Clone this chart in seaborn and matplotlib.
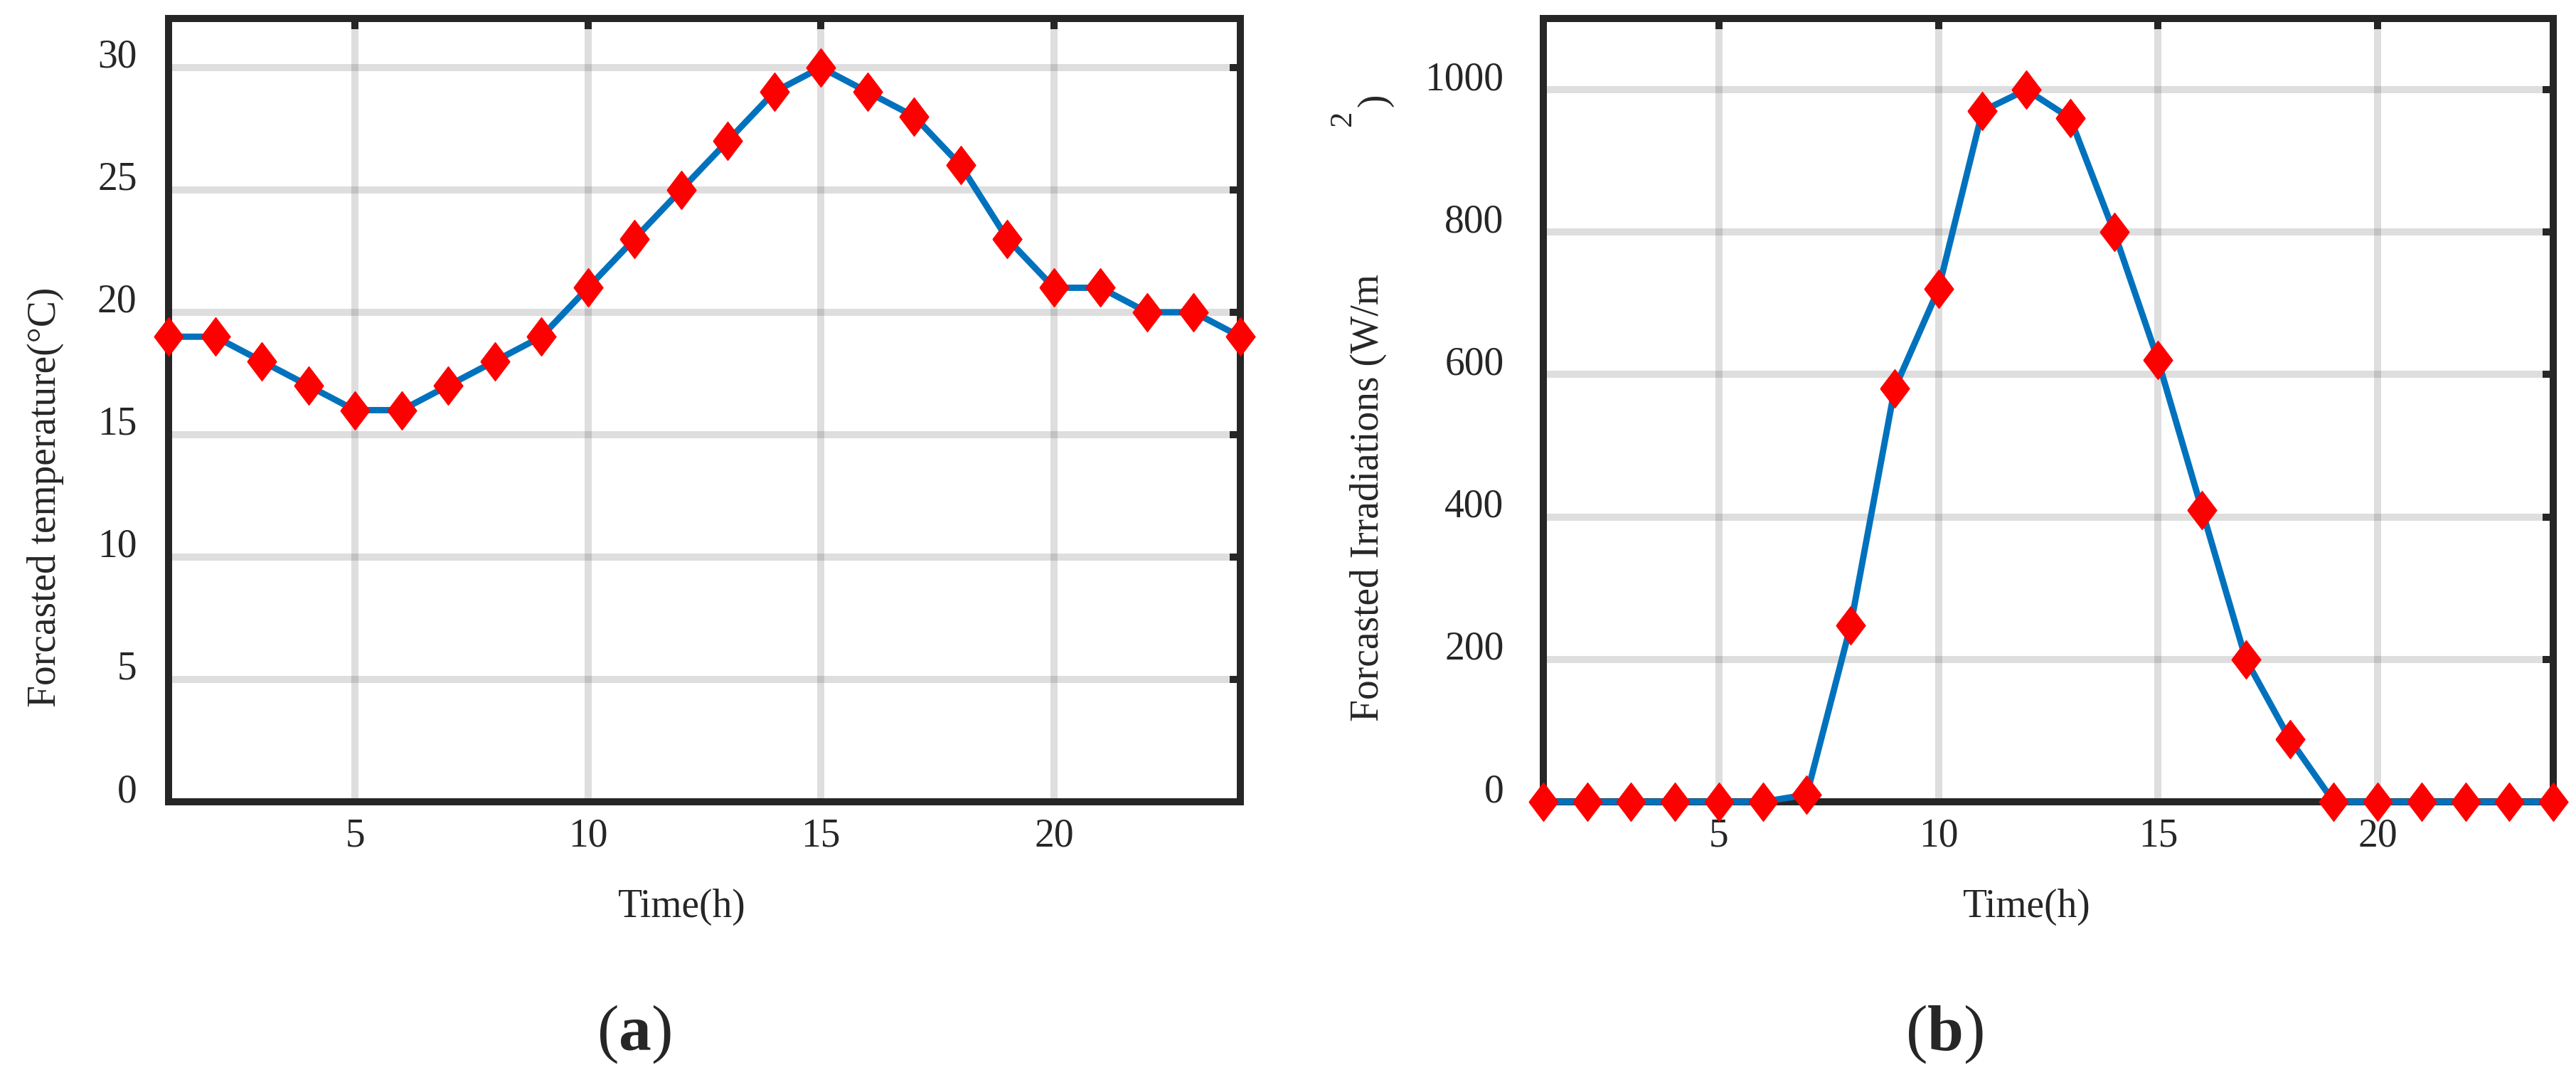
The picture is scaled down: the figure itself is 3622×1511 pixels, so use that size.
import matplotlib
matplotlib.use('Agg')
import matplotlib.pyplot as plt
import seaborn as sns
import pandas as pd
import numpy as np

# %%
# Data
hours = [1, 2, 3, 4, 5, 6, 7, 8, 9, 10, 11, 12,
         13, 14, 15, 16, 17, 18, 19, 20, 21, 22, 23, 24]
temperature = [19, 19, 18, 17, 16, 16, 17, 18, 19, 21, 23, 25,
               27, 29, 30, 29, 28, 26, 23, 21, 21, 20, 20, 19]
irradiation = [0, 0, 0, 0, 0, 0, 10, 248, 580, 720, 970, 1000,
               960, 800, 620, 410, 200, 88, 0, 0, 0, 0, 0, 0]

x_ticks = [5, 10, 15, 20]
temp_ticks = [0, 5, 10, 15, 20, 25, 30]
irr_ticks = [0, 200, 400, 600, 800, 1000]

df = pd.DataFrame({'hour': hours, 'temp': temperature, 'irr': irradiation})

# %%
sns.set_theme(style='white')
plt.rcParams['font.family'] = ['Liberation Serif', 'DejaVu Serif']
plt.rcParams['mathtext.fontset'] = 'custom'
plt.rcParams['mathtext.rm'] = 'Liberation Serif'
plt.rcParams['mathtext.bf'] = 'Liberation Serif:bold'

DPI = 200
W, H = 3622, 1511
fig = plt.figure(figsize=(W / DPI, H / DPI), dpi=DPI)
fig.patch.set_facecolor('white')


def fx(px):
    return px / W


def fy(py):
    return 1 - py / H


ax1 = fig.add_axes([fx(237), fy(1127), fx(1744) - fx(237), fy(26) - fy(1127)])
ax2 = fig.add_axes([fx(2170), fy(1127), fx(3590) - fx(2170), fy(26) - fy(1127)])

# tall-ish diamond like the MATLAB 'd' marker
diamond = [(-0.76, 0), (0, 1), (0.76, 0), (0, -1), (-0.76, 0)]
line_kw = dict(color='#0072BD', linewidth=3.2, marker=diamond, markersize=19.4,
               markerfacecolor='#FF0000', markeredgecolor='#FF0000',
               markeredgewidth=0.5, clip_on=False, zorder=3)

sns.lineplot(data=df, x='hour', y='temp', ax=ax1, **line_kw)
sns.lineplot(data=df, x='hour', y='irr', ax=ax2, **line_kw)

for ax, yt, ylim, ypad in [(ax1, temp_ticks, (0, 32), 16), (ax2, irr_ticks, (0, 1100), 20)]:
    ax.set_xlim(1, 24)
    ax.set_ylim(*ylim)
    ax.set_xticks(x_ticks)
    ax.set_yticks(yt)
    ax.grid(True, color='#262626', alpha=0.15, linewidth=3.6, zorder=0)
    ax.set_axisbelow(True)
    for s in ax.spines.values():
        s.set_linewidth(3.6)
        s.set_color('#262626')
    ax.tick_params(axis='both', which='both', direction='in', length=5.4, width=3.6,
                   color='#262626', top=True, right=True, labelsize=20,
                   labelcolor='#262626')
    ax.tick_params(axis='x', pad=8)
    ax.tick_params(axis='y', pad=ypad)
    plt.setp(ax.get_yticklabels(), va='baseline')
    ax.set_xlabel('Time(h)', fontsize=20, color='#262626', va='top')
    ax.xaxis.set_label_coords(0.479, -0.111)

ax1.set_ylabel('Forcasted temperature(°C)', fontsize=20, color='#262626')
ax1.yaxis.set_label_coords((90 - 237) / 1507, (1127 - 699) / 1101)

ax2.set_ylabel('Forcasted Irradiations (W/m', fontsize=20, color='#262626')
ax2.yaxis.set_label_coords((1950 - 2170) / 1420, (1127 - 700) / 1101)

# the superscript and closing bracket land up top in the original export
fig.text(fx(1888), fy(166), '2', rotation=90,
         ha='center', va='center', fontsize=16, color='#262626')
fig.text(fx(1933), fy(141), ')', rotation=90,
         ha='center', va='center', fontsize=20, color='#262626')

# panel letters
fig.text(fx(891), fy(1476), r'($\mathbf{a}$)', ha='center', va='baseline', fontsize=33)
fig.text(fx(2734), fy(1476), r'($\mathbf{b}$)', ha='center', va='baseline', fontsize=33)

plt.savefig('out.png', dpi=DPI, facecolor='white')
